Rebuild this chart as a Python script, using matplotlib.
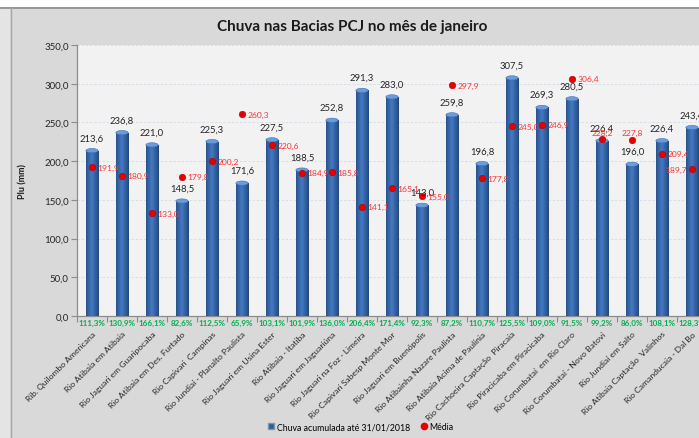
import numpy as np
import matplotlib
matplotlib.use("Agg")
import matplotlib.pyplot as plt
from matplotlib.patches import Ellipse, Rectangle
from matplotlib.lines import Line2D

stations = [
    "Rib. Quilombo Americana", "Rio Atibaia em Atibaia", "Rio Jaguari em Guaripocaba",
    "Rio Atibaia em Des. Furtado", "Rio Capivari  Campinas", "Rio Jundiaí - Planalto Paulista",
    "Rio Jaguari em Usina Ester", "Rio Atibaia - Itatiba", "Rio Jaguari em Jaguariúna",
    "Rio Jaguari na Foz - Limeira", "Rio Capivari Sabesp Monte Mor", "Rio Jaguari em Buenópolis",
    "Rio Atibainha Nazare Paulista", "Rio Atibaia Acima de Paulínia",
    "Rio Cachoeira Captação  Piracaia", "Rio Piracicaba em Piracicaba",
    "Rio Corumbataí  em Rio Claro", "Rio Corumbataí - Novo Batovi", "Rio Jundiaí em Salto",
    "Rio Atibaia Captação  Valinhos", "Rio Camanducaia - Dal Bo",
]
chuva = [213.6, 236.8, 221.0, 148.5, 225.3, 171.6, 227.5, 188.5, 252.8, 291.3, 283.0,
         143.0, 259.8, 196.8, 307.5, 269.3, 280.5, 226.4, 196.0, 226.4, 243.4]
media = [191.9, 180.9, 133.0, 179.8, 200.2, 260.3, 220.6, 184.9, 185.8, 141.1, 165.1,
         155.0, 297.9, 177.8, 245.0, 246.9, 306.4, 228.2, 227.8, 209.4, 189.7]
percent = ["111,3%", "130,9%", "166,1%", "82,6%", "112,5%", "65,9%", "103,1%", "101,9%",
           "136,0%", "206,4%", "171,4%", "92,3%", "87,2%", "110,7%", "125,5%", "109,0%",
           "91,5%", "99,2%", "86,0%", "108,1%", "128,3%"]
yticks = [0, 50, 100, 150, 200, 250, 300, 350]

def fmt(v):
    return f"{v:.1f}".replace(".", ",")

plt.rcParams['font.family'] = ['Lato', 'DejaVu Sans']

W, H = 699, 439
fig = plt.figure(figsize=(W / 100, H / 100), dpi=100)
fig.patch.set_facecolor("#d9d9d9")
# outer frame decorations
fig.add_artist(Rectangle((0, 1 - 8 / H), 1, 8 / H, transform=fig.transFigure,
                         facecolor="white", edgecolor="none", zorder=0))
fig.add_artist(Line2D([0, 1], [1 - 8.5 / H, 1 - 8.5 / H], transform=fig.transFigure,
                      color="#8a8a8a", lw=1.2))
fig.add_artist(Rectangle((0, 0), 10 / W, 1 - 9 / H, transform=fig.transFigure,
                         facecolor="#e4e4e4", edgecolor="none", zorder=0))
fig.add_artist(Line2D([10.5 / W, 10.5 / W], [0, 1 - 9 / H], transform=fig.transFigure,
                      color="#a6a6a6", lw=1.0))

left, bottom, top = 77 / W, (H - 317) / H, (H - 46) / H
ax = fig.add_axes([left, bottom, 630 / W, top - bottom])
ax.set_facecolor("#f2f2f2")

x = np.arange(len(stations))
bw = 0.43
bars = ax.bar(x, chuva, width=bw, color="#2d5d9b", edgecolor="#7f93ad", linewidth=0.6, zorder=3)

# cylinder-like horizontal gradient
grad = np.linspace(0, 1, 64)
shade = 1 - np.abs(grad - 0.45) * 1.6
img = np.zeros((1, 64, 3))
c_dark = np.array([0x1e, 0x42, 0x73]) / 255
c_light = np.array([0x44, 0x7a, 0xc4]) / 255
for i in range(64):
    s = np.clip(shade[i], 0, 1)
    img[0, i] = c_dark + (c_light - c_dark) * s
for b in bars:
    bx, by, bwid, bh = b.get_x(), b.get_y(), b.get_width(), b.get_height()
    im = ax.imshow(img, extent=[bx, bx + bwid, by, by + bh], aspect="auto", zorder=3.5)
    im.set_clip_path(b)
    ax.add_patch(Ellipse((bx + bwid / 2, by + bh), bwid * 0.95, 5.5, facecolor="#6a9de0",
                         edgecolor="#3d6fb0", lw=0.4, zorder=4))

# bar value labels
for xi, v in zip(x, chuva):
    ax.annotate(fmt(v), (xi, v), xytext=(0, 6), textcoords="offset points",
                ha="center", va="bottom", fontsize=6.8, color="#262626", zorder=6)

# média points
ax.scatter(x, media, s=22, color="#e80000", edgecolor="#b00000", linewidth=0.4, zorder=5,
           label="Média")
for i, (xi, m) in enumerate(zip(x, media)):
    if i in (17, 18):
        xy, ha, va = (0, 2.5), "center", "bottom"
    elif i == 20:
        xy, ha, va = (-4, 0), "right", "center"
    else:
        xy, ha, va = (4, 0), "left", "center"
    ax.annotate(fmt(m), (xi, m), xytext=xy, textcoords="offset points", ha=ha, va=va,
                fontsize=6.1, color="#ff3333", zorder=6)

# percentage labels under the bars
for xi, p in zip(x, percent):
    ax.annotate(p, (xi, 0), xytext=(0, -2), textcoords="offset points", ha="center", va="top",
                fontsize=5.8, color="#00b050", fontweight="bold", zorder=6,
                annotation_clip=False)

ax.set_xlim(-0.5, len(stations) - 0.5)
ax.set_ylim(0, 350)
ax.set_yticks(yticks)
ax.set_yticklabels([fmt(v) for v in yticks], fontsize=7, color="#262626")
ax.yaxis.grid(True, color="#d5dbe6", linestyle=(0, (3, 2)), linewidth=0.6, zorder=0)
ax.set_axisbelow(True)

ax.set_xticks(x)
ax.set_xticklabels(stations, rotation=45, ha="right", rotation_mode="anchor",
                   fontsize=6.1, color="#262626")
ax.tick_params(axis="x", length=0, pad=10)
ax.set_xticks(np.arange(-0.5, len(stations), 1), minor=True)
ax.tick_params(axis="x", which="minor", length=4, color="#8c8c8c", width=0.8)
ax.tick_params(axis="y", length=4, color="#8c8c8c", width=0.8, pad=2)

for s in ("top", "right"):
    ax.spines[s].set_visible(False)
for s in ("left", "bottom"):
    ax.spines[s].set_color("#8c8c8c")
    ax.spines[s].set_linewidth(0.9)

ax.set_ylabel("Plu (mm)", fontsize=6.5, fontweight="bold", labelpad=12, color="#1a1a1a")

fig.text(352 / W, 1 - 27 / H, "Chuva nas Bacias PCJ no mês de janeiro", ha="center",
         va="center", fontsize=11, fontweight="bold", color="#1a1a1a")

handles = [
    Line2D([], [], marker="s", linestyle="none", markersize=5, markerfacecolor="#2d5d9b",
           markeredgecolor="#7f93ad", label="Chuva acumulada até 31/01/2018"),
    Line2D([], [], marker="o", linestyle="none", markersize=4.5, markerfacecolor="#e80000",
           markeredgecolor="#e80000", label="Média"),
]
fig.legend(handles=handles, loc="center", bbox_to_anchor=(360 / W, 1 - 428 / H), ncol=2,
           frameon=False, fontsize=6.3, handletextpad=0.1, columnspacing=1.1,
           handlelength=1.0)

fig.savefig("out.png", dpi=100, facecolor=fig.get_facecolor())
